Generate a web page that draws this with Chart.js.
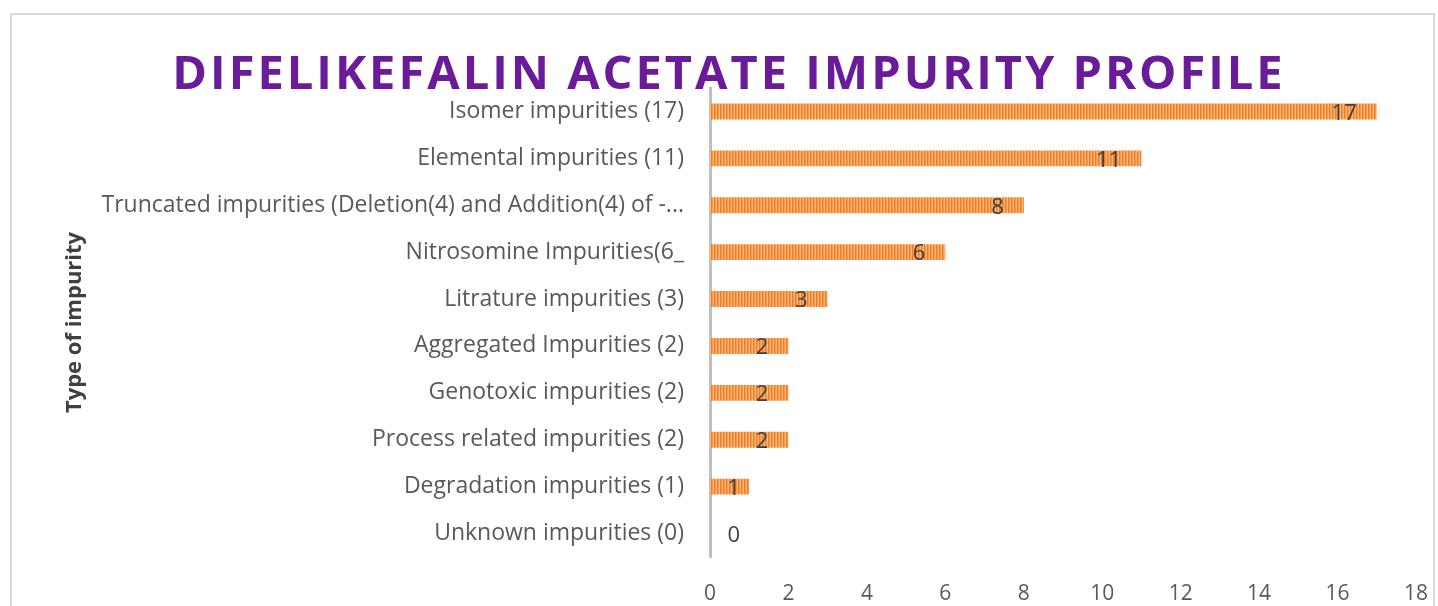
<!DOCTYPE html>
<html>
<head>
<meta charset="utf-8">
<script src="https://cdn.jsdelivr.net/npm/chart.js@4.4.0/dist/chart.umd.min.js"></script>
<style>
    html, body { margin: 0; padding: 0; background: #ffffff; }
    #wrap { position: relative; width: 1438px; height: 606px; overflow: hidden; }
    #frame { position: absolute; left: 10px; top: 13px; width: 1421px; height: 620px; border: 2px solid #d9d9d9; pointer-events: none; }
</style>
</head>
<body>
<div id="wrap">
    <canvas id="impurityChart" width="1438" height="606"></canvas>
    <div id="frame"></div>
</div>
<script>
// Dati del grafico
const chartTitle = 'DIFELIKEFALIN ACETATE IMPURITY PROFILE';
const categories = [
    'Isomer impurities (17)',
    'Elemental impurities (11)',
    'Truncated impurities (Deletion(4) and Addition(4) of -...',
    'Nitrosomine Impurities(6_',
    'Litrature impurities (3)',
    'Aggregated Impurities (2)',
    'Genotoxic impurities (2)',
    'Process related impurities (2)',
    'Degradation impurities (1)',
    'Unknown impurities (0)'
];
const impurityCounts = [17, 11, 8, 6, 3, 2, 2, 2, 1, 0];
const xTickMin = 0;
const xTickMax = 18;
const xTickStep = 2;

const labelFont = '"Open Sans", sans-serif';

// Motivo a righe verticali per le barre
function stripePattern() {
    const c = document.createElement('canvas');
    c.width = 3;
    c.height = 4;
    const g = c.getContext('2d');
    g.fillStyle = '#f47a1f';
    g.fillRect(0, 0, 1, 4);
    g.fillStyle = '#f79a4e';
    g.fillRect(1, 0, 1, 4);
    g.fillStyle = '#fbb881';
    g.fillRect(2, 0, 1, 4);
    return g.createPattern(c, 'repeat');
}

// Titolo con spaziatura tra lettere
const titlePlugin = {
    id: 'spacedTitle',
    afterDraw(chart) {
        const ctx = chart.ctx;
        ctx.save();
        ctx.font = '700 47px "Open Sans", sans-serif';
        ctx.letterSpacing = '3px';
        ctx.fillStyle = '#6a1b9a';
        ctx.textAlign = 'center';
        ctx.textBaseline = 'alphabetic';
        ctx.fillText(chartTitle, 729, 89);
        ctx.restore();
    }
};

// Etichette dei valori all'interno della fine della barra
const valueLabels = {
    id: 'valueLabels',
    afterDatasetsDraw(chart) {
        const ctx = chart.ctx;
        const meta = chart.getDatasetMeta(0);
        ctx.save();
        ctx.font = '22px ' + labelFont;
        ctx.fillStyle = '#404040';
        ctx.textAlign = 'right';
        ctx.textBaseline = 'middle';
        meta.data.forEach((bar, i) => {
            const right = Math.max(bar.x - 20, bar.base + 30);
            ctx.fillText(String(impurityCounts[i]), right, bar.y + 2);
        });
        ctx.restore();
    }
};

const ctx = document.getElementById('impurityChart').getContext('2d');
const impurityChart = new Chart(ctx, {
    type: 'bar',
    data: {
        labels: categories,
        datasets: [{
            label: 'Impurities',
            data: impurityCounts,
            backgroundColor: stripePattern(),
            borderWidth: 0,
            categoryPercentage: 1,
            barPercentage: 0.34
        }]
    },
    options: {
        indexAxis: 'y',
        responsive: false,
        animation: false,
        layout: { padding: { top: 88, left: 58, right: 22, bottom: 0 } },
        scales: {
            x: {
                min: xTickMin,
                max: xTickMax,
                grid: { display: false, drawTicks: false },
                border: { display: false },
                ticks: { stepSize: xTickStep, color: '#595959', padding: 24, font: { family: labelFont, size: 21 } },
                afterFit: (s) => { s.height = 49; s.paddingLeft = 0; s.paddingRight = 0; }
            },
            y: {
                grid: { display: false, drawTicks: false },
                border: { display: true, color: '#bfbfbf', width: 3 },
                ticks: { color: '#595959', padding: 26, font: { family: labelFont, size: 23 } },
                title: { display: true, text: 'Type of impurity', color: '#404040', font: { family: labelFont, size: 22, weight: 'bold' } },
                afterFit: (s) => { s.width = 652; s.paddingTop = 0; s.paddingBottom = 0; }
            }
        },
        plugins: {
            legend: { display: false },
            title: { display: false },
            tooltip: { enabled: false }
        }
    },
    plugins: [valueLabels, titlePlugin]
});
</script>
</body>
</html>
